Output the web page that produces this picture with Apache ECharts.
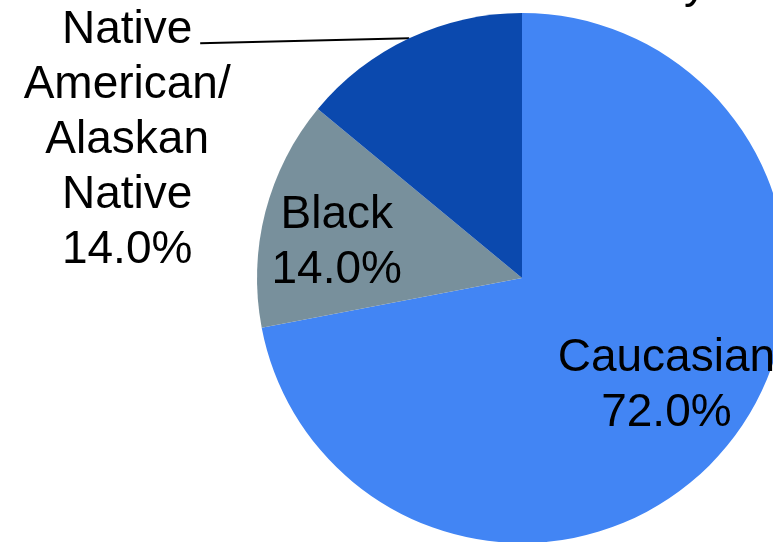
<!DOCTYPE html>
<html>
<head>
<meta charset="utf-8">
<style>
  html, body { margin: 0; padding: 0; background: #ffffff; }
  #chart { width: 773px; height: 542px; }
</style>
<script src="https://cdn.jsdelivr.net/npm/echarts@6/dist/echarts.min.js"></script>
</head>
<body>
<div id="chart"></div>
<script>
// Ethnicity breakdown (percent)
const categories = ['Caucasian', 'Black', 'Native\nAmerican/\nAlaskan\nNative'];
const shares = [72.0, 14.0, 14.0];
const sliceColors = ['#4285F4', '#78909C', '#0B49AE'];
const titleText = 'Ethnicity';

const chart = echarts.init(document.getElementById('chart'), null, { renderer: 'canvas' });

const labelFont = {
  fontFamily: 'Liberation Sans, Arial, sans-serif',
  fontSize: 46,
  lineHeight: 55,
  color: '#000000'
};

// inside labels sit further out than the default half-radius spot
const insideOffsets = [[40, 21], [-54, -1], null];

const data = categories.map((name, i) => {
  const item = {
    name: name,
    value: shares[i],
    itemStyle: { color: sliceColors[i] }
  };
  if (insideOffsets[i]) {
    item.label = { position: 'inside', offset: insideOffsets[i] };
    item.labelLine = { show: false };
  } else {
    item.label = { position: 'outside' };
    item.labelLine = { show: true, length: 10, length2: 20, lineStyle: { color: '#000', width: 2 } };
  }
  return item;
});

chart.setOption({
  animation: false,
  title: {
    text: titleText,
    right: 66,
    top: -39,
    padding: 0,
    textStyle: { fontFamily: 'Liberation Sans, Arial, sans-serif', fontSize: 46, lineHeight: 46, fontWeight: 'normal', color: '#000' }
  },
  series: [{
    type: 'pie',
    center: [522, 278],
    radius: 265,
    startAngle: 90,
    clockwise: true,
    avoidLabelOverlap: false,
    itemStyle: { borderWidth: 0 },
    label: Object.assign({
      show: true,
      align: 'center',
      formatter: p => p.name + '\n' + p.value.toFixed(1) + '%'
    }, labelFont),
    labelLayout: function (params) {
      if (params.dataIndex !== 2 || !params.labelLinePoints) return {};
      const edge = params.labelLinePoints[0];
      const end = [edge[0] - 209, edge[1] + 5];
      return {
        x: edge[0] - 282,
        y: edge[1] - 35,
        align: 'center',
        verticalAlign: 'top',
        labelLinePoints: [edge, end, end]
      };
    },
    data: data
  }]
});
</script>
</body>
</html>
